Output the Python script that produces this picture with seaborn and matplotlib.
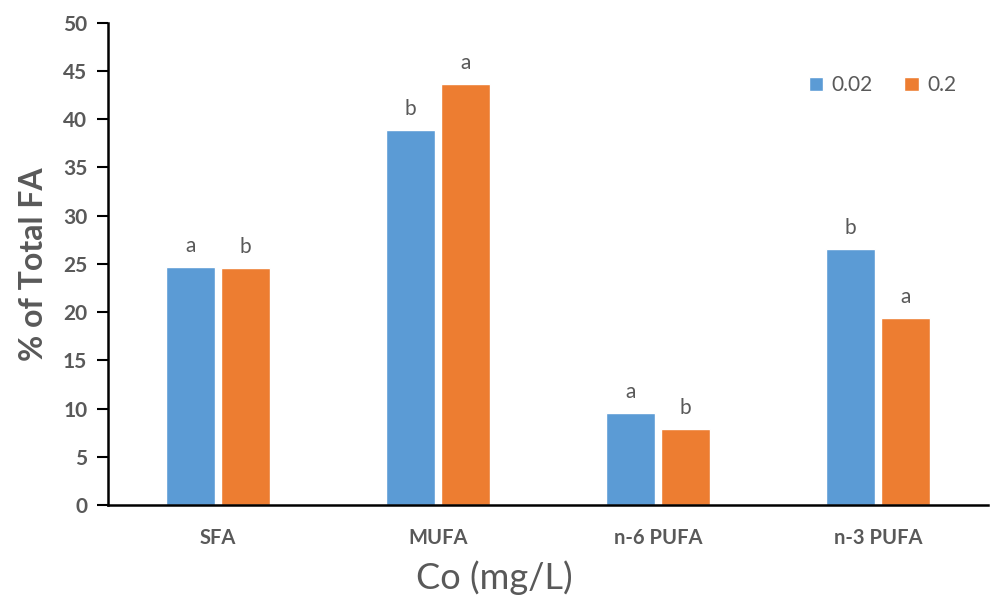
import pandas as pd
import matplotlib.pyplot as plt
import seaborn as sns

# Data
categories = ['SFA', 'MUFA', 'n-6 PUFA', 'n-3 PUFA']
doses = ['0.02', '0.2']
low_dose = [24.7, 38.9, 9.5, 26.5]
high_dose = [24.6, 43.6, 7.9, 19.4]
letters_low = ['a', 'b', 'a', 'b']
letters_high = ['b', 'a', 'b', 'a']

df = pd.DataFrame({
    'fa': categories * 2,
    'dose': [doses[0]] * 4 + [doses[1]] * 4,
    'value': low_dose + high_dose,
})

sns.set_style('white')
plt.rcParams['font.family'] = ['Lato', 'DejaVu Sans']

grey = '#595959'
fig = plt.figure(figsize=(9.92, 6.03), dpi=100)
ax = fig.add_axes([0.109, 0.1625, 0.887, 0.80])

sns.barplot(data=df, x='fa', y='value', hue='dose', order=categories,
            hue_order=doses, palette=['#5B9BD5', '#ED7D31'],
            width=0.5, gap=0.1, saturation=1, ax=ax)

# significance letters over each bar
for cont, labs in zip(ax.containers, [letters_low, letters_high]):
    for bar, lab in zip(cont, labs):
        ax.annotate(lab, (bar.get_x() + bar.get_width() / 2, bar.get_height()),
                    xytext=(0, 8), textcoords='offset points',
                    ha='center', va='bottom', fontsize=15, color=grey)

ax.set_ylim(0, 50)
ax.set_xlim(-0.5, 3.5)
ax.set_yticks(range(0, 51, 5))
ax.tick_params(axis='y', left=True, length=8, width=1.5, color='black',
               labelsize=15, labelcolor=grey, pad=7)
ax.tick_params(axis='x', bottom=False, labelsize=14.5, labelcolor=grey, pad=13)
for t in ax.get_yticklabels() + ax.get_xticklabels():
    t.set_fontweight('bold')

for s in ['top', 'right']:
    ax.spines[s].set_visible(False)
for s in ['left', 'bottom']:
    ax.spines[s].set_color('black')
    ax.spines[s].set_linewidth(1.8)

ax.set_ylabel('% of Total FA', fontsize=23, fontweight='bold', color=grey)
ax.yaxis.set_label_coords(-0.068, 0.5)
ax.set_xlabel('Co (mg/L)', fontsize=26, color=grey)
ax.xaxis.set_label_coords(0.439, -0.115)

ax.legend(loc='upper right', bbox_to_anchor=(0.985, 0.93), ncol=2, frameon=False,
          fontsize=15, handlelength=0.7, handleheight=0.7, handletextpad=0.4,
          columnspacing=1.5, labelcolor=grey)

plt.savefig('out.png', dpi=100)
